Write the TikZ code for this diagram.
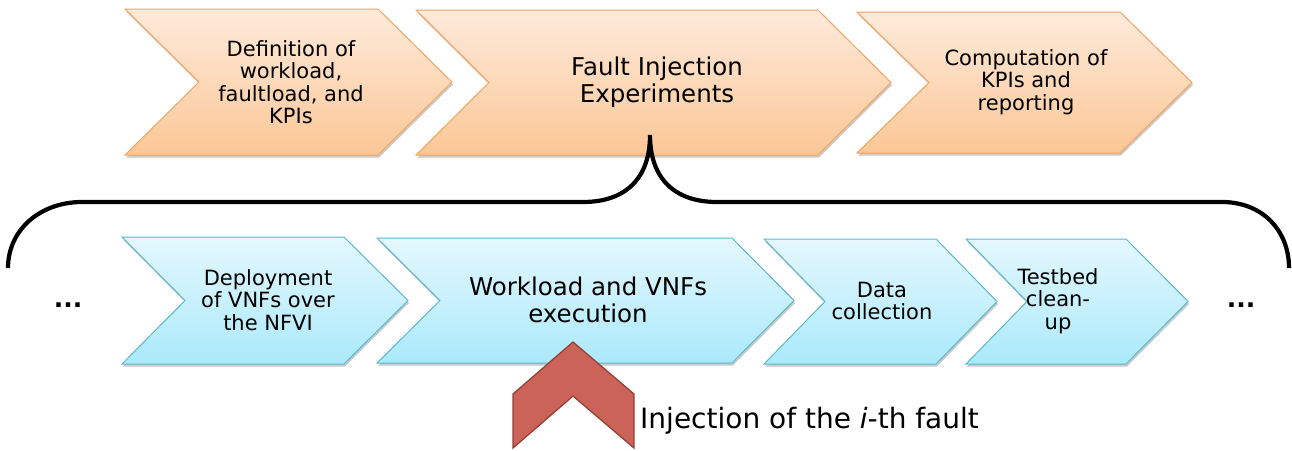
\documentclass[tikz,border=0pt]{standalone}
\usepackage{fontspec}
\setmainfont{DejaVu Sans}
\usetikzlibrary{shadows}
\definecolor{orT}{HTML}{FEEADB}
\definecolor{orB}{HTML}{FBC796}
\definecolor{orD}{HTML}{F4A460}
\definecolor{blT}{HTML}{E4F8FE}
\definecolor{blB}{HTML}{ABE9FB}
\definecolor{blD}{HTML}{5BB7CE}
\definecolor{redF}{HTML}{CC6359}
\definecolor{redD}{HTML}{94413A}
\tikzset{
  orchev/.style={draw=orD, line width=1pt, top color=orT, bottom color=orB,
    drop shadow={shadow xshift=1pt, shadow yshift=-2.5pt, opacity=0.35, fill=black!60}},
  blchev/.style={draw=blD, line width=1pt, top color=blT, bottom color=blB,
    drop shadow={shadow xshift=1pt, shadow yshift=-2.5pt, opacity=0.35, fill=black!60}},
  small/.style={align=center, font=\fontsize{21}{22.5}\selectfont, inner sep=0pt},
  big/.style={align=center, font=\fontsize{24.5}{27}\selectfont, inner sep=0pt},
  dots/.style={font=\fontsize{25}{27}\selectfont\bfseries, inner sep=0pt},
  brace/.style={line width=4.2pt, line cap=butt},
  injarrow/.style={fill=redF, draw=redD, line width=1.3pt, line join=miter}
}
% \chevron{style}{xleft}{xnotch}{xcorner}{xpoint}{ytop}{ybot}
\newcommand\chevron[7]{%
  \path[#1] (#2,#6) -- (#4,#6) -- (#5,{(#6+#7)/2}) -- (#4,#7) -- (#2,#7) -- (#3,{(#6+#7)/2}) -- cycle;}
\begin{document}
\begin{tikzpicture}[x=1pt,y=-1pt]
\useasboundingbox (0,0) rectangle (1292,450);
% top row
\chevron{orchev}{125}{199}{378}{452}{9}{155}
\chevron{orchev}{416}{489}{818}{891}{10}{155}
\chevron{orchev}{857}{929}{1120}{1192}{12}{153}
\node[small] (c1) at (291,82) {Definition of\\workload,\\faultload, and\\KPIs};
\node[big] (c2) at (657,82) {Fault Injection\\Experiments};
\node[small] (c3) at (1026,82) {Computation of\\KPIs and\\reporting};
% bottom row
\chevron{blchev}{122}{185}{344}{408}{237}{364}
\chevron{blchev}{377}{440}{732}{794}{238}{363}
\chevron{blchev}{764}{825}{936}{997}{239}{364}
\chevron{blchev}{966}{1027}{1126}{1188}{239}{364}
\node[small] (b1) at (268,300) {Deployment\\of VNFs over\\the NFVI};
\node[big] (b2) at (588,300) {Workload and VNFs\\execution};
\node[small] (b3) at (882,301) {Data\\collection};
\node[small] (b4) at (1058,301) {Testbed\\clean-\\up};
\node[dots] (dl) at (68,305) {...};
\node[dots] (dr) at (1241,305) {...};
% brace
\coordinate (bl) at (8,268);
\coordinate (cusp) at (650,135);
\coordinate (br) at (1289,268);
\draw[brace] (bl) .. controls (8,230) and (40,202) .. (82,202) -- (583,202)
  .. controls (626,202) and (650,178) .. (cusp)
  .. controls (650,178) and (674,202) .. (717,202) -- (1222,202)
  .. controls (1262,202) and (1289,230) .. (br);
% injection arrow
\path[injarrow] (573,342) -- (634,394) -- (634,448) -- (573,396) -- (513,448) -- (513,394) -- cycle;
\node[anchor=west, inner sep=0pt, font=\fontsize{28}{30}\selectfont] (inj) at (640,421) {Injection of the \textit{i}-th fault};
\end{tikzpicture}
\end{document}
